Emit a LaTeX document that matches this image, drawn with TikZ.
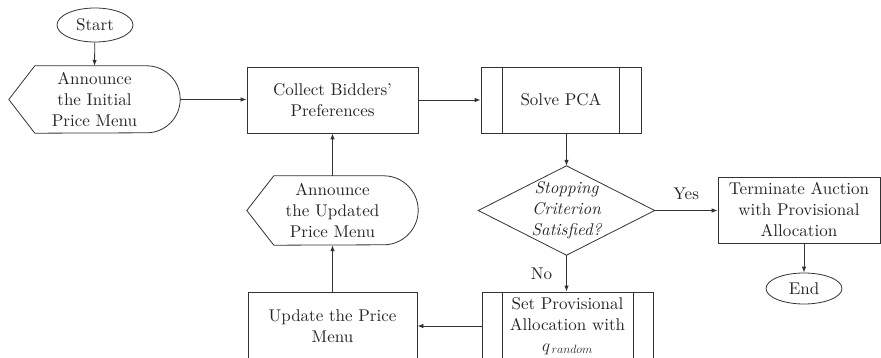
\documentclass[tikz,border=0pt]{standalone}
\usepackage{fontspec}
\setmainfont{lmroman10-regular.otf}[ItalicFont=lmroman10-italic.otf]
\usetikzlibrary{shapes.geometric,arrows.meta}
\newcommand\drawdisplay[3]{%
  \draw[line] (#1.west) -- ([xshift=#2]#1.north west) -- ([xshift=-#3]#1.north east)
    arc[start angle=90,end angle=-90,radius=#3] -- ([xshift=#2]#1.south west) -- cycle;}
\newcommand\drawpredef[2]{%
  \draw[line] ([xshift=#2]#1.north west) -- ([xshift=#2]#1.south west);
  \draw[line] ([xshift=-#2]#1.north east) -- ([xshift=-#2]#1.south east);}
\begin{document}
\begin{tikzpicture}[x=1pt,y=1pt,
  every node/.style={font=\fontsize{17}{21}\selectfont, text=black!85, align=center, inner sep=0pt},
  line/.style={draw=black!80, line width=0.8pt},
  arr/.style={line, -{Latex[length=6pt,width=4.5pt]}},
  procbox/.style={rectangle, line, minimum width=171pt, minimum height=66pt},
  shapebox/.style={rectangle, draw=none},
  term/.style={ellipse, line, minimum width=76pt, minimum height=34pt},
  lbl/.style={font=\fontsize{17}{21}\selectfont}
]
\useasboundingbox (0,0) rectangle (881,-358);

\node[term] (start) at (95,-25) {Start};
\node[shapebox, minimum width=171pt, minimum height=67pt] (ann1) at (94.5,-99.5) {Announce\\the Initial\\Price Menu};
\drawdisplay{ann1}{26pt}{33.5pt}

\node[procbox] (collect) at (332.5,-100) {Collect Bidders'\\Preferences};
\node[procbox, minimum width=160pt] (pca) at (561,-100) {Solve PCA};
\drawpredef{pca}{22pt}

\node[shapebox, minimum width=176pt, minimum height=89pt, font=\fontsize{17}{21}\selectfont\itshape] (dec) at (566.5,-210.5) {Stopping\\Criterion\\Satisfied?};
\draw[line] (dec.west) -- (dec.north) -- (dec.east) -- (dec.south) -- cycle;

\node[procbox, minimum width=162pt] (termin) at (799,-210) {Terminate Auction\\with Provisional\\Allocation};
\node[term, minimum height=31pt] (end) at (804,-288.5) {End};

\node[shapebox, minimum width=171pt, minimum height=69pt] (ann2) at (332.5,-210.5) {Announce\\the Updated\\Price Menu};
\drawdisplay{ann2}{27pt}{34.5pt}

\node[procbox, minimum width=169pt, minimum height=68pt] (update) at (332.5,-326) {Update the Price\\Menu};
\node[procbox, minimum height=68pt] (setprov) at (567.5,-326) {Set Provisional\\Allocation with\\$q_{\,random}$};
\drawpredef{setprov}{20.5pt}

\draw[arr] (start) -- (ann1.north);
\draw[arr] (ann1.east) -- (collect.west |- ann1.east);
\draw[arr] (collect.east) -- (pca.west);
\draw[arr] (dec.north |- pca.south) -- (dec.north);
\draw[arr] (dec.east) -- node[lbl, above, yshift=10pt] {Yes} (termin.west |- dec.east);
\draw[arr] (dec.south) -- node[lbl, left, xshift=-14pt, yshift=0pt] {No} (dec.south |- setprov.north);
\draw[arr] (termin.south -| end.north) -- (end.north);
\draw[arr] (setprov.west) -- (update.east |- setprov.west);
\draw[arr] (update.north) -- (ann2.south);
\draw[arr] (ann2.north) -- (collect.south);
\end{tikzpicture}
\end{document}
